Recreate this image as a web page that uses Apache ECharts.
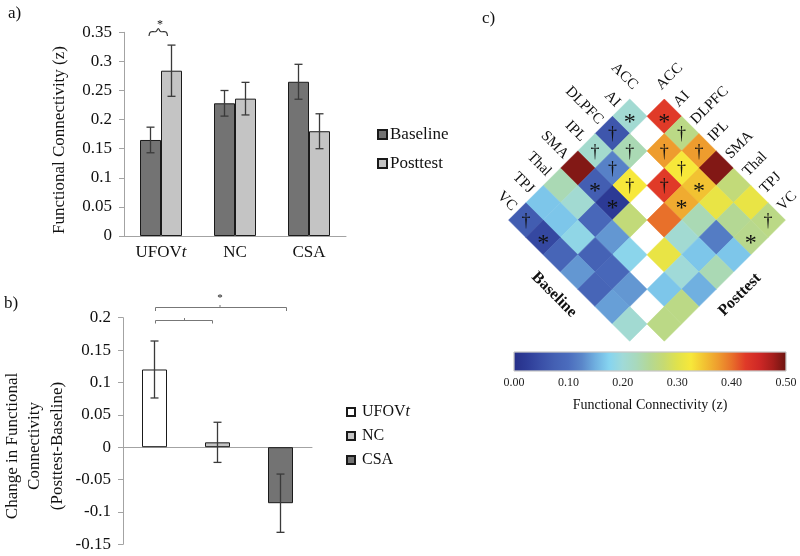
<!DOCTYPE html>
<html><head><meta charset="utf-8">
<script src="https://cdn.jsdelivr.net/npm/echarts@6/dist/echarts.min.js"></script>
<style>html,body{margin:0;padding:0;background:#fff}#c{width:800px;height:556px}</style>
</head><body><div id="c"></div>
<script>
// ---------- Panel a: functional connectivity by group ----------
const groups = ['UFOVt', 'NC', 'CSA'];
const baselineFC = [0.165, 0.228, 0.265];
const baselineErr = [0.022, 0.022, 0.030];
const posttestFC = [0.284, 0.236, 0.180];
const posttestErr = [0.044, 0.028, 0.030];
const fcAxis = [0, 0.35, 0.05];          // min, max, step
// ---------- Panel b: change (posttest - baseline) ----------
const changeFC = [0.120, 0.0075, -0.0865];
const changeErr = [0.044, 0.031, 0.045];
const changeAxis = [-0.15, 0.2, 0.05];
// ---------- Panel c: connectivity matrices (lower triangle, rows AI..VC, cols ACC..TPJ) ----------
const regions = ['ACC', 'AI', 'DLPFC', 'IPL', 'SMA', 'Thal', 'TPJ', 'VC'];
const baselineMatrix = [
  [0.205],
  [0.06, 0.23],
  [0.21, 0.12, 0.325],
  [0.49, 0.072, 0.02, 0.27],
  [0.23, 0.205, 0.09, 0.135, 0.18],
  [0.165, 0.165, 0.185, 0.08, 0.09, 0.135],
  [0.07, 0.04, 0.085, 0.135, 0.085, 0.14, 0.205]
];
const posttestMatrix = [
  [0.425],
  [0.26, 0.375],
  [0.375, 0.325, 0.425],
  [0.49, 0.35, 0.365, 0.40],
  [0.27, 0.31, 0.23, 0.205, 0.31],
  [0.31, 0.25, 0.115, 0.165, 0.20, 0.165],
  [0.26, 0.255, 0.165, 0.23, 0.15, 0.26, 0.26]
];
const baselineMarks = [
  ['*'],
  ['†', '†'],
  ['†', '†', '†'],
  ['', '*', '*', ''],
  ['', '', '', '', ''],
  ['', '', '', '', '', ''],
  ['†', '*', '', '', '', '', '']
];
const posttestMarks = [
  ['*'],
  ['†', '†'],
  ['†', '†', '†'],
  ['', '*', '*', ''],
  ['', '', '', '', ''],
  ['', '', '', '', '', ''],
  ['†', '*', '', '', '', '', '']
];
const colorbarRange = [0, 0.5, 0.1];
const colormap = ['#262f88', '#2e3d98', '#3a4fa7', '#4460b3', '#4b6cbd', '#5a86c9', '#70b0e0',
  '#86d4f0', '#a0dad8', '#a8d9bc', '#b4d894', '#c6da72', '#e0e24c', '#f7e83a', '#f2c232',
  '#ee9c2e', '#e8702a', '#e03a28', '#cf2826', '#a61e1c', '#6a1410'];

const SERIF = '"Liberation Serif", "Times New Roman", serif';
const AXIS_GRAY = '#a3a3a3';
const DARK = '#737373', LIGHT = '#c4c4c4';
const BAR_A = 21, BAR_B = 25;

const chart = echarts.init(document.getElementById('c'), null, {renderer: 'canvas'});

function catLabel(v) { return v === 'UFOVt' ? '{n|UFOV}{i|t}' : '{n|' + v + '}'; }
const richLab = (fs) => ({ n: {fontFamily: SERIF, fontSize: fs, color: '#111'},
                           i: {fontFamily: SERIF, fontSize: fs, fontStyle: 'italic', color: '#111'} });
const numFmt = v => String(parseFloat(v.toFixed(2)));

function errorBars(xi, yi, vals, errs, offset) {
  return {
    type: 'custom', xAxisIndex: xi, yAxisIndex: yi, z: 5, silent: true,
    data: vals.map((v, i) => [i, v - errs[i], v + errs[i]]),
    encode: {x: 0, y: [1, 2]},
    renderItem: function (params, api) {
      const lo = api.coord([api.value(0), api.value(1)]);
      const hi = api.coord([api.value(0), api.value(2)]);
      const x = lo[0] + offset, w = 4;
      const st = {stroke: '#3a3a3a', lineWidth: 1.3};
      return {type: 'group', children: [
        {type: 'line', shape: {x1: x, y1: lo[1], x2: x, y2: hi[1]}, style: st},
        {type: 'line', shape: {x1: x - w, y1: lo[1], x2: x + w, y2: lo[1]}, style: st},
        {type: 'line', shape: {x1: x - w, y1: hi[1], x2: x + w, y2: hi[1]}, style: st}
      ]};
    }
  };
}

function matrixData(mat, mirror) {
  const out = [];
  mat.forEach((row, r) => row.forEach((v, c) => {
    const X = mirror ? (r - c + 1) : (c - r - 1);
    out.push([X, c + r + 1, v]);
  }));
  return out;
}
function flatMarks(m) { return [].concat.apply([], m); }

function diamondSeries(mat, marks, mirror) {
  const mk = flatMarks(marks);
  return {
    type: 'custom', xAxisIndex: 2, yAxisIndex: 2, silent: true,
    data: matrixData(mat, mirror),
    encode: {x: 0, y: 1},
    renderItem: function (params, api) {
      const X = api.value(0), Y = api.value(1);
      const pts = [api.coord([X, Y - 1]), api.coord([X + 1, Y]), api.coord([X, Y + 1]), api.coord([X - 1, Y])];
      const col = api.visual('color');
      const c = api.coord([X, Y]);
      const m = mk[params.dataIndex];
      const ch = [{type: 'polygon', shape: {points: pts}, style: {fill: col, stroke: col, lineWidth: 0.6}}];
      if (m === '*') {
        ch.push({type: 'text', x: c[0], y: c[1] + 6, style: {text: '*', fill: '#111', fontFamily: SERIF, fontSize: 24, align: 'center', verticalAlign: 'middle'}});
      } else if (m === '†') {
        ch.push({type: 'text', x: c[0], y: c[1] + 1, style: {text: '†', fill: '#111', fontFamily: SERIF, fontSize: 18, align: 'center', verticalAlign: 'middle'}});
      }
      return {type: 'group', children: ch};
    }
  };
}

const option = {
  animation: false,
  backgroundColor: '#fff',
  grid: [
    {left: 124, top: 32.3, width: 222, height: 203.7},
    {left: 123, top: 317.7, width: 189, height: 226.6},
    {left: 508.6, top: 99, width: 276.8, height: 242.2},
    {left: 514, top: 352, width: 272, height: 19}
  ],
  xAxis: [
    {gridIndex: 0, type: 'category', data: groups,
     axisLine: {lineStyle: {color: AXIS_GRAY}}, axisTick: {length: 5, lineStyle: {color: AXIS_GRAY}},
     axisLabel: {margin: 8, interval: 0, formatter: catLabel, rich: richLab(17)}},
    {gridIndex: 1, type: 'category', data: groups,
     axisLine: {onZero: true, lineStyle: {color: AXIS_GRAY}}, axisTick: {length: 5, lineStyle: {color: AXIS_GRAY}},
     axisLabel: {show: false}},
    {gridIndex: 2, type: 'value', min: -8, max: 8, show: false},
    {gridIndex: 3, type: 'value', min: colorbarRange[0], max: colorbarRange[1], interval: colorbarRange[2],
     axisLine: {show: false}, axisTick: {show: false}, splitLine: {show: false},
     axisLabel: {margin: 6, fontFamily: SERIF, fontSize: 12, color: '#222', formatter: v => v.toFixed(2)},
     name: 'Functional Connectivity (z)', nameLocation: 'middle', nameGap: 27,
     nameTextStyle: {fontFamily: SERIF, fontSize: 14, color: '#111'}}
  ],
  yAxis: [
    {gridIndex: 0, type: 'value', min: fcAxis[0], max: fcAxis[1], interval: fcAxis[2],
     axisLine: {show: true, lineStyle: {color: AXIS_GRAY}}, axisTick: {show: true, length: 5, lineStyle: {color: AXIS_GRAY}},
     splitLine: {show: false},
     axisLabel: {margin: 12, fontFamily: SERIF, fontSize: 17, color: '#111', formatter: numFmt}},
    {gridIndex: 1, type: 'value', min: changeAxis[0], max: changeAxis[1], interval: changeAxis[2],
     axisLine: {show: true, lineStyle: {color: AXIS_GRAY}}, axisTick: {show: true, length: 5, lineStyle: {color: AXIS_GRAY}},
     splitLine: {show: false},
     axisLabel: {margin: 12, fontFamily: SERIF, fontSize: 17, color: '#111', formatter: numFmt}},
    {gridIndex: 2, type: 'value', min: 0, max: 14, inverse: true, show: false},
    {gridIndex: 3, type: 'value', min: 0, max: 1, show: false}
  ],
  legend: [
    {data: ['Baseline', 'Posttest'], orient: 'vertical', left: 372, top: 121, itemWidth: 9, itemHeight: 9,
     itemGap: 12, icon: 'rect', textStyle: {fontFamily: SERIF, fontSize: 17, color: '#111', padding: [0, 0, 0, -2]}},
    {data: ['UFOVt', 'NC', 'CSA'], orient: 'vertical', left: 341, top: 399, itemWidth: 8, itemHeight: 8,
     itemGap: 8, icon: 'rect', formatter: catLabel,
     textStyle: {rich: richLab(16), padding: [0, 0, 0, 2]}}
  ],
  visualMap: {type: 'continuous', show: false, min: colorbarRange[0], max: colorbarRange[1], dimension: 2,
              seriesIndex: [7, 8], inRange: {color: colormap}},
  series: [
    {name: 'Baseline', type: 'bar', xAxisIndex: 0, yAxisIndex: 0, data: baselineFC, barWidth: BAR_A, barGap: '0%',
     itemStyle: {color: DARK, borderColor: '#1a1a1a', borderWidth: 1}},
    {name: 'Posttest', type: 'bar', xAxisIndex: 0, yAxisIndex: 0, data: posttestFC, barWidth: BAR_A, barGap: '0%',
     itemStyle: {color: LIGHT, borderColor: '#1a1a1a', borderWidth: 1}},
    errorBars(0, 0, baselineFC, baselineErr, -BAR_A / 2),
    errorBars(0, 0, posttestFC, posttestErr, BAR_A / 2),
    {name: 'UFOVt', type: 'bar', xAxisIndex: 1, yAxisIndex: 1, barWidth: BAR_B, barGap: '-100%',
     data: changeFC.map((v, i) => i === 0 ? v : '-'), itemStyle: {color: '#ffffff', borderColor: '#1a1a1a', borderWidth: 1}},
    {name: 'NC', type: 'bar', xAxisIndex: 1, yAxisIndex: 1, barWidth: BAR_B, barGap: '-100%',
     data: changeFC.map((v, i) => i === 1 ? v : '-'), itemStyle: {color: LIGHT, borderColor: '#1a1a1a', borderWidth: 1}},
    {name: 'CSA', type: 'bar', xAxisIndex: 1, yAxisIndex: 1, barWidth: BAR_B, barGap: '-100%',
     data: changeFC.map((v, i) => i === 2 ? v : '-'), itemStyle: {color: DARK, borderColor: '#1a1a1a', borderWidth: 1}},
    diamondSeries(baselineMatrix, baselineMarks, false),
    diamondSeries(posttestMatrix, posttestMarks, true),
    errorBars(1, 1, changeFC, changeErr, 0),
    {type: 'custom', xAxisIndex: 3, yAxisIndex: 3, silent: true, data: [[colorbarRange[0], colorbarRange[1]]],
     encode: {x: [0, 1]},
     renderItem: function (params, api) {
       const p0 = api.coord([api.value(0), 0]);
       const p1 = api.coord([api.value(1), 1]);
       const stops = colormap.map((c, i) => ({offset: i / (colormap.length - 1), color: c}));
       return {type: 'rect', shape: {x: p0[0], y: p1[1], width: p1[0] - p0[0], height: p0[1] - p1[1]},
               style: {fill: new echarts.graphic.LinearGradient(0, 0, 1, 0, stops), stroke: '#c8c8c8', lineWidth: 0.8}};
     }}
  ]
};
chart.setOption(option);

// ---------- annotations and labels ----------
const g = [];
const txt = (x, y, s, o) => Object.assign({type: 'text', x: x, y: y,
  style: Object.assign({text: s, fill: '#111', fontFamily: SERIF, fontSize: 17, align: 'left', verticalAlign: 'middle'}, o || {})});
g.push(txt(8, 14, 'a)', {fontSize: 17}));
g.push(txt(4, 304, 'b)', {fontSize: 17}));
g.push(txt(482, 19, 'c)', {fontSize: 17}));
g.push(Object.assign(txt(60, 140, 'Functional Connectivity (z)', {align: 'center', fontSize: 17}), {rotation: Math.PI / 2}));
g.push(Object.assign(txt(35, 446, 'Change in Functional\nConnectivity\n(Posttest-Baseline)',
  {align: 'center', fontSize: 17, lineHeight: 22.5}), {rotation: Math.PI / 2}));

// panel a significance brace
g.push({type: 'polyline', shape: {points: [[149, 36], [150.5, 32], [156, 31.5], [158.3, 28.5], [160.5, 31.5], [166, 32], [167.5, 36]], smooth: 0.4},
        style: {stroke: '#333', lineWidth: 1.2, fill: null}});
g.push(txt(160, 25, '*', {align: 'center', fontSize: 12}));
// panel b brackets
const bst = {stroke: '#777', lineWidth: 1, fill: null};
g.push({type: 'polyline', shape: {points: [[155.5, 311], [155.5, 307.5], [286.5, 307.5], [286.5, 311]]}, style: bst});
g.push({type: 'line', shape: {x1: 220, y1: 307.5, x2: 220, y2: 305}, style: bst});
g.push(txt(220, 298, '*', {align: 'center', fontSize: 11}));
g.push({type: 'polyline', shape: {points: [[155.5, 323.5], [155.5, 320.5], [212.5, 320.5], [212.5, 323.5]]}, style: bst});
g.push({type: 'line', shape: {x1: 184.5, y1: 320.5, x2: 184.5, y2: 318}, style: bst});

// matrix labels, anchored to the matrix grid
const toPx = p => chart.convertToPixel({gridIndex: 2}, p);
regions.forEach((name, k) => {
  const r = k - 1;
  const pb = toPx([-r - 1.5, r + 0.5]);
  g.push(Object.assign(txt(pb[0] - 3, pb[1] - 3, name, {align: 'right', fontSize: 15}), {rotation: -Math.PI / 4}));
  const pp = toPx([r + 1.5, r + 0.5]);
  g.push(Object.assign(txt(pp[0] + 3, pp[1] - 3, name, {align: 'left', fontSize: 15}), {rotation: Math.PI / 4}));
});
const mb = toPx([-4.5, 10.5]);
g.push(Object.assign(txt(mb[0] - 15, mb[1] + 14, 'Baseline', {align: 'center', fontSize: 16, fontWeight: 'bold'}), {rotation: -Math.PI / 4}));
const mp = toPx([4.5, 10.5]);
g.push(Object.assign(txt(mp[0] + 15, mp[1] + 14, 'Posttest', {align: 'center', fontSize: 16, fontWeight: 'bold'}), {rotation: Math.PI / 4}));

chart.setOption({graphic: g});
</script></body></html>
